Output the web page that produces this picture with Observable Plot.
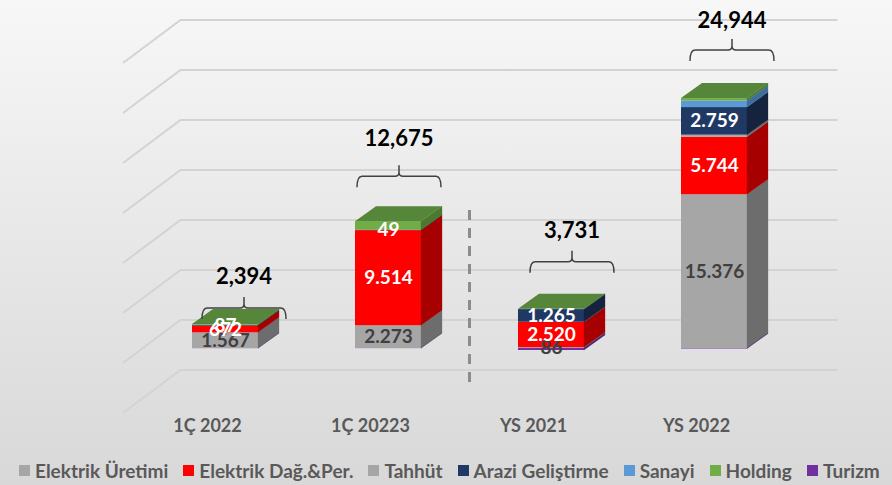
<!DOCTYPE html>
<html><head><meta charset="utf-8">
<script src="https://cdn.jsdelivr.net/npm/d3@7"></script>
<script src="https://cdn.jsdelivr.net/npm/@observablehq/plot@0.6"></script>
<style>
html,body{margin:0;padding:0;}
body{width:892px;height:485px;background:linear-gradient(#f7f7f7,#d8d8d8);overflow:hidden;font-family:Lato,sans-serif}
#chart svg{display:block}
#legend{height:30px;display:flex;align-items:center;padding-left:19px;gap:15px;font:bold 19px Lato,sans-serif;color:#595959;white-space:nowrap}
.item{display:flex;align-items:center;gap:5px}
.sw{width:11px;height:11px;display:inline-block}
</style></head><body>
<div id="chart"></div><div id="legend"></div>
<script>
// ---- data ----
const categories = ["1Ç 2022", "1Ç 20223", "YS 2021", "YS 2022"];
const series = ["Elektrik Üretimi", "Elektrik Dağ.&Per.", "Tahhüt", "Arazi Geliştirme", "Sanayi", "Holding", "Turizm"];
const elektrikUretimi = [1567, 2273, 86, 15376];
const elektrikDagPer = [672, 9514, 2520, 5744];
const tahhut = [0, 0, 20, 215];
const araziGelistirme = [87, 49, 1265, 2759];
const sanayi = [10, 0, 10, 650];
const holding = [70, 850, 30, 250];
const turizm = [-12, -11, -200, -50];
const totals = [2394, 12675, 3731, 24944];
const totalLabels = ["2,394", "12,675", "3,731", "24,944"];
const labelledSeries = ["Elektrik Üretimi", "Elektrik Dağ.&Per.", "Arazi Geliştirme"];
const gridValues = [-5000, 0, 5000, 10000, 15000, 20000, 25000, 30000];
const separatorRange = [-3400, 13800];

// ---- styles / layout ----
const frontColors = ["#a6a6a6", "#ff0000", "#a6a6a6", "#203864", "#5b9bd5", "#70ad47", "#7030a0"];
const sideColors  = ["#6d6d6d", "#a60000", "#6d6d6d", "#15233f", "#3e6f9c", "#4b7a2e", "#4b1f6e"];
const topColors   = ["#c4c4c4", "#ff4d4d", "#c4c4c4", "#2c4a80", "#7fb2e0", "#56863a", "#8a4cb8"];
const DX = 21, DY = 15;           // bar depth
const WX = 37, WY = 28;           // back wall offset from bar front plane
const braceLift = [1, 30, 32, 33];
const labelGap = [32, 38, 32, 30];
const braceShift = [19, 11, 21, 18];

const valuesBySeries = [elektrikUretimi, elektrikDagPer, tahhut, araziGelistirme, sanayi, holding, turizm];
const fmtTR = v => v.toLocaleString("tr-TR");

const segments = [];
categories.forEach((cat, i) => {
  let pos = 0, neg = 0;
  series.forEach((s, j) => {
    const v = valuesBySeries[j][i];
    let y1, y2;
    if (v >= 0) { y1 = pos; y2 = pos + v; pos = y2; } else { y2 = neg; y1 = neg + v; neg = y1; }
    segments.push({cat, ci: i, series: s, si: j, value: v, y1, y2});
  });
});

function bwOf(x) { return typeof x.bandwidth === "function" ? x.bandwidth() : 66; }

function gridMark(index, scales, values, dims) {
  const {y} = scales;
  const left = dims.marginLeft, right = dims.width - dims.marginRight;
  const g = d3.create("svg:g").attr("fill", "none").attr("stroke", "#d3d3d3").attr("stroke-width", 2);
  for (const v of gridValues) {
    const yb = y(v) - WY;
    g.append("path").attr("d", `M${left - DX + 0.5},${y(v) + DY}L${left + WX},${yb}L${right + WX + 5},${yb}`);
  }
  return g.node();
}

function separatorMark(index, scales) {
  const {x, y} = scales; const bw = bwOf(x);
  const xs = (x(categories[1]) + x(categories[2])) / 2 + bw / 2;
  return d3.create("svg:line").attr("x1", xs).attr("x2", xs)
    .attr("y1", y(separatorRange[0])).attr("y2", y(separatorRange[1]))
    .attr("stroke", "#8c8c8c").attr("stroke-width", 3).attr("stroke-dasharray", "10,8").node();
}

function facesMark(index, scales) {
  const {x, y} = scales; const bw = bwOf(x);
  const g = d3.create("svg:g");
  for (const s of segments) {
    if (s.value === 0) continue;
    const x2 = x(s.cat) + bw, ya = y(s.y1), yb = y(s.y2);
    g.append("path").attr("d", `M${x2},${ya}L${x2},${yb}L${x2 + DX},${yb - DY}L${x2 + DX},${ya - DY}Z`)
      .attr("fill", sideColors[s.si]).attr("stroke", sideColors[s.si]).attr("stroke-width", 0.3);
  }
  categories.forEach((cat, i) => {
    const segs = segments.filter(s => s.ci === i && s.value > 0);
    const topSeg = segs.reduce((a, b) => (b.y2 >= a.y2 ? b : a));
    const x1 = x(cat), x2 = x1 + bw, yt = y(topSeg.y2);
    g.append("path").attr("d", `M${x1},${yt}L${x2},${yt}L${x2 + DX},${yt - DY}L${x1 + DX},${yt - DY}Z`)
      .attr("fill", topColors[topSeg.si]);
  });
  return g.node();
}

function totalsMark(index, scales) {
  const {x, y} = scales; const bw = bwOf(x);
  const g = d3.create("svg:g");
  categories.forEach((cat, i) => {
    const posTop = d3.sum(segments.filter(s => s.ci === i && s.value > 0), s => s.value);
    const cx = x(cat) + bw / 2 + braceShift[i];
    const by = y(posTop) - DY - braceLift[i];
    const hw = 42;
    g.append("path").attr("fill", "none").attr("stroke", "#404040").attr("stroke-width", 1.5)
      .attr("d", `M${cx - hw},${by + 11}Q${cx - hw},${by} ${cx - hw + 5},${by}L${cx - 4},${by}Q${cx},${by} ${cx},${by - 4}L${cx},${by - 11}M${cx},${by - 4}Q${cx},${by} ${cx + 4},${by}L${cx + hw - 5},${by}Q${cx + hw},${by} ${cx + hw},${by + 11}`);
    g.append("text").attr("x", cx).attr("y", by - labelGap[i]).attr("dy", "0.36em")
      .attr("text-anchor", "middle").attr("font-family", "Lato, sans-serif").attr("font-weight", "bold")
      .attr("font-size", 22).attr("fill", "#000").text(totalLabels[i]);
  });
  return g.node();
}

const labelData = segments.filter(s => labelledSeries.includes(s.series) && s.value !== 0);

const chart = Plot.plot({
  width: 892, height: 455,
  marginLeft: 143.5, marginRight: 96.5, marginTop: 48, marginBottom: 107,
  x: {domain: categories, paddingInner: 0.595, paddingOuter: 0.2975, axis: null},
  y: {domain: [0, 30000], axis: null},
  color: {domain: series, range: frontColors},
  style: {background: "transparent", overflow: "visible"},
  marks: [
    gridMark,
    separatorMark,
    Plot.barY(segments, {x: "cat", y1: "y1", y2: "y2", fill: "series"}),
    facesMark,
    Plot.text(labelData.filter(d => d.series === "Elektrik Üretimi"), {
      x: "cat", y: d => (d.y1 + d.y2) / 2, text: d => fmtTR(d.value),
      fill: "#404040", fontFamily: "Lato, sans-serif", fontWeight: "bold", fontSize: 19
    }),
    Plot.text(labelData.filter(d => d.series !== "Elektrik Üretimi"), {
      x: "cat", y: d => (d.y1 + d.y2) / 2, text: d => fmtTR(d.value),
      fill: "white", fontFamily: "Lato, sans-serif", fontWeight: "bold", fontSize: 19
    }),
    Plot.text(categories, {
      x: d => d, text: d => d, frameAnchor: "bottom", dy: 83, dx: -18,
      fill: "#595959", fontFamily: "Lato, sans-serif", fontWeight: "bold", fontSize: 18
    }),
    totalsMark
  ]
});
document.getElementById("chart").appendChild(chart);

const legend = document.getElementById("legend");
series.forEach((s, j) => {
  const item = document.createElement("span"); item.className = "item";
  const sw = document.createElement("span"); sw.className = "sw"; sw.style.background = frontColors[j];
  const t = document.createElement("span"); t.textContent = s;
  item.appendChild(sw); item.appendChild(t); legend.appendChild(item);
});
</script>
</body></html>
